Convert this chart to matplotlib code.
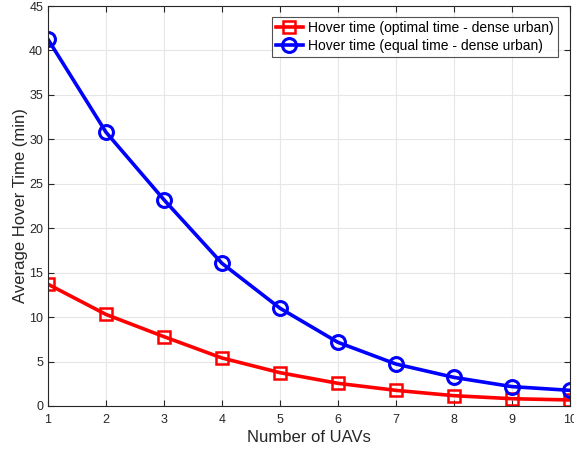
import matplotlib
matplotlib.use("Agg")
import matplotlib.pyplot as plt

plt.rcParams['font.family'] = ['Liberation Sans', 'DejaVu Sans']

uavs = [1, 2, 3, 4, 5, 6, 7, 8, 9, 10]
optimal = [13.7, 10.3, 7.8, 5.4, 3.75, 2.55, 1.76, 1.16, 0.82, 0.68]
equal = [41.25, 30.8, 23.2, 16.05, 11.0, 7.16, 4.72, 3.22, 2.18, 1.76]
xticks = list(range(1, 11))
yticks = list(range(0, 46, 5))

fig = plt.figure(figsize=(5.74, 4.53), dpi=100)
ax = fig.add_axes([48/574, 1 - 406/453, (570-48)/574, (406-6)/453])

ax.plot(uavs, optimal, color='#ff0000', lw=2.6, marker='s', ms=8, mfc='none', mew=1.8,
        label='Hover time (optimal time - dense urban)')
ax.plot(uavs, equal, color='#0000ff', lw=2.6, marker='o', ms=10, mfc='none', mew=2.2,
        label='Hover time (equal time - dense urban)')

ax.set_xlim(1, 10)
ax.set_ylim(0, 45)
ax.set_xticks(xticks)
ax.set_yticks(yticks)
ax.grid(True, color='#e6e6e6', lw=0.8)
ax.set_axisbelow(True)
for s in ax.spines.values():
    s.set_color('#262626')
    s.set_linewidth(0.8)
ax.tick_params(direction='in', colors='#262626', labelsize=9, length=4, top=True, right=True,
               labeltop=False, labelright=False)
ax.tick_params(axis='x', pad=6)
ax.set_xlabel('Number of UAVs', fontsize=12, color='#262626', labelpad=3)
ax.set_ylabel('Average Hover Time (min)', fontsize=12, color='#262626', labelpad=1)

leg = ax.legend(loc='upper right', bbox_to_anchor=((558 - 48)/522, 1 - 11/400),
                bbox_transform=ax.transAxes, fontsize=10, frameon=True, fancybox=False,
                edgecolor='#262626', handlelength=1.9, borderpad=0.3, labelspacing=0.25,
                handletextpad=0.4, borderaxespad=0)
leg.get_frame().set_linewidth(0.8)

fig.savefig('out.png', dpi=100)
